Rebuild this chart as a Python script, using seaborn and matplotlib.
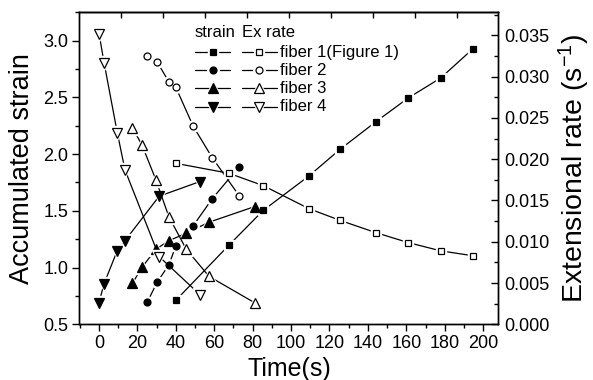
import matplotlib
matplotlib.use("Agg")
import matplotlib.pyplot as plt
import seaborn as sns
from matplotlib.ticker import MultipleLocator, FormatStrFormatter

# ---------------- data ----------------
t1 = [40.0, 67.6, 85.5, 109.4, 125.4, 144.2, 161.0, 177.9, 194.8]
strain1 = [0.712, 1.197, 1.504, 1.809, 2.041, 2.286, 2.495, 2.671, 2.930]
rate1 = [0.0195, 0.0183, 0.0168, 0.0140, 0.0126, 0.0111, 0.0099, 0.0089, 0.0083]

t2 = [25.1, 30.2, 36.3, 40.0, 49.0, 58.9, 72.9]
strain2 = [0.694, 0.871, 1.021, 1.191, 1.368, 1.606, 1.888]
rate2 = [0.0325, 0.0318, 0.0294, 0.0287, 0.0240, 0.0202, 0.0156]

t3 = [17.4, 22.4, 29.6, 36.4, 45.4, 57.3, 81.1]
strain3 = [0.862, 1.003, 1.162, 1.237, 1.303, 1.400, 1.538]
rate3 = [0.0238, 0.0217, 0.0175, 0.0130, 0.0091, 0.0058, 0.0026]

t4 = [0.0, 2.6, 9.5, 13.5, 31.3, 52.5]
strain4 = [0.692, 0.858, 1.150, 1.237, 1.629, 1.758]
rate4 = [0.0352, 0.0317, 0.0232, 0.0187, 0.0082, 0.0036]

fiber_labels = ["fiber 1(Figure 1)", "fiber 2", "fiber 3", "fiber 4"]
markers = ["s", "o", "^", "v"]
msizes = [4.0, 5.0, 7.0, 7.0]

# ---------------- style ----------------
sns.set_theme(style="ticks")
plt.rcParams["font.family"] = ["Liberation Sans", "DejaVu Sans"]
plt.rcParams.update({
    "axes.edgecolor": "black", "axes.labelcolor": "black", "text.color": "black",
    "xtick.color": "black", "ytick.color": "black", "axes.linewidth": 1.0,
    "mathtext.fontset": "custom", "mathtext.rm": "Liberation Sans",
    "mathtext.it": "Liberation Sans:italic",
})

fig = plt.figure(figsize=(5.93, 3.80), dpi=100)
ax = fig.add_axes([0.1337, 0.1466, 0.8406 - 0.1337, 0.9676 - 0.1466])
ax2 = ax.twinx()

XLIM = (-10.3, 208.0)


def draw(a, t, y, marker, ms, filled):
    sns.lineplot(x=t, y=y, ax=a, color="black", lw=0.9, estimator=None,
                 sort=False, zorder=2)
    a.plot(t, y, ls="none", marker=marker, ms=ms + 3.2, mfc="white",
           mec="white", zorder=3)
    a.plot(t, y, ls="none", marker=marker, ms=ms,
           mfc="black" if filled else "white", mec="black", mew=0.9, zorder=4)


times = [t1, t2, t3, t4]
strains = [strain1, strain2, strain3, strain4]
rates = [rate1, rate2, rate3, rate4]
for i in range(4):
    draw(ax, times[i], strains[i], markers[i], msizes[i], True)
    draw(ax2, times[i], rates[i], markers[i], msizes[i], False)

ax.set_xlim(*XLIM)
ax.set_ylim(0.5, 3.25)
ax2.set_ylim(0.0, 0.0378)

ax.xaxis.set_major_locator(MultipleLocator(20))
ax.xaxis.set_minor_locator(MultipleLocator(10))
ax.yaxis.set_major_locator(MultipleLocator(0.5))
ax.yaxis.set_minor_locator(MultipleLocator(0.25))
ax.yaxis.set_major_formatter(FormatStrFormatter("%.1f"))
ax2.yaxis.set_major_locator(MultipleLocator(0.005))
ax2.yaxis.set_minor_locator(MultipleLocator(0.0025))
ax2.yaxis.set_major_formatter(FormatStrFormatter("%.3f"))

ax.tick_params(axis="both", which="major", direction="out", length=5, width=1.0,
               labelsize=13, pad=3)
ax.tick_params(axis="both", which="minor", direction="out", length=3, width=1.0)
ax.tick_params(axis="x", top=False)
ax.tick_params(axis="y", right=False)
ax2.tick_params(axis="y", which="major", direction="in", length=5, width=1.0,
                labelsize=13, pad=4)
ax2.tick_params(axis="y", which="minor", direction="in", length=3, width=1.0)

# top axis: evenly spaced inward ticks
x0, x1 = XLIM
sec = ax.secondary_xaxis("top", functions=(lambda x: (x - x0) / (x1 - x0),
                                           lambda f: x0 + f * (x1 - x0)))
sec.set_xticks([0.1 * k for k in range(1, 10)])
sec.tick_params(direction="in", length=4, width=1.0, labeltop=False)

ax.set_xlabel("Time(s)", fontsize=18, labelpad=3)
ax.set_ylabel("Accumulated strain", fontsize=19.5, labelpad=6)
ax2.set_ylabel("Extensional rate (s$^{-1}$)", fontsize=20.5, labelpad=5)

for sp in list(ax.spines.values()) + list(ax2.spines.values()):
    sp.set_linewidth(1.0)
    sp.set_color("black")

# ---------------- legend (manual, two columns) ----------------
T = ax.transAxes
LFS = 12
ax.text(0.276, 0.934, "strain", transform=T, fontsize=LFS, va="center", ha="left")
ax.text(0.387, 0.934, "Ex rate", transform=T, fontsize=LFS, va="center", ha="left")
rows_y = [0.872, 0.815, 0.756, 0.697]
for i in range(4):
    y = rows_y[i]
    for (xa, xb, filled) in [(0.276, 0.360, True), (0.387, 0.471, False)]:
        xm = 0.5 * (xa + xb)
        ax.plot([xa, xb], [y, y], transform=T, color="black", lw=0.9,
                clip_on=False, zorder=5)
        ax.plot([xm], [y], transform=T, ls="none", marker=markers[i],
                ms=msizes[i] + 3.2, mfc="white", mec="white", clip_on=False,
                zorder=6)
        ax.plot([xm], [y], transform=T, ls="none", marker=markers[i],
                ms=msizes[i], mfc="black" if filled else "white", mec="black",
                mew=0.9, clip_on=False, zorder=7)
    ax.text(0.478, y, fiber_labels[i], transform=T, fontsize=LFS, va="center",
            ha="left")

fig.savefig("out.png", dpi=100)
